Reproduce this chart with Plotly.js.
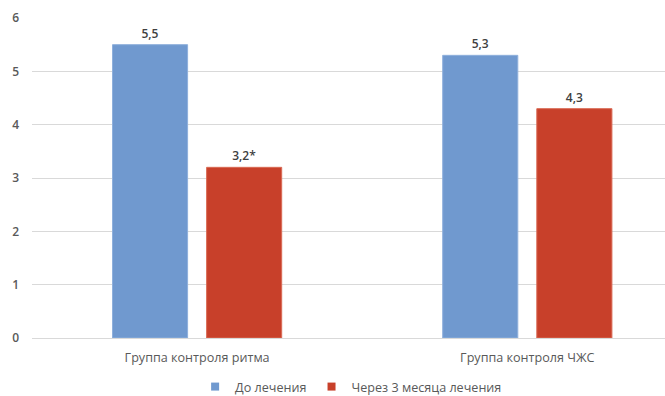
<!DOCTYPE html>
<html><head><meta charset="utf-8">
<script src="https://cdn.plot.ly/plotly-3.0.1.min.js"></script>
<style>html,body{margin:0;padding:0;background:#fff;}#chart{width:665px;height:396px;}</style>
</head><body><div id="chart"></div>
<script>
const categories = ["Группа контроля ритма", "Группа контроля ЧЖС"];
const seriesNames = ["До лечения", "Через 3 месяца лечения"];
const beforeValues = [5.5, 5.3];
const afterValues = [3.2, 4.3];
const beforeLabels = ["5,5", "5,3"];
const afterLabels = ["3,2*", "4,3"];
const yTicks = [0, 1, 2, 3, 4, 5, 6];
const colors = ["#7099CF", "#C8402A"];

const font = {family: "Open Sans, Noto Sans, sans-serif", size: 12.6, color: "#595959"};
const common = {type: "bar", textposition: "outside", cliponaxis: false, showlegend: false,
  textfont: {family: "Open Sans, sans-serif", size: 12, color: "#404040", weight: 600}};
const traces = [
  Object.assign({}, common, {x: categories, y: beforeValues, name: seriesNames[0], text: beforeLabels,
    marker: {color: colors[0], line: {color: "#8FB0DC", width: 1}}}),
  Object.assign({}, common, {x: categories, y: afterValues, name: seriesNames[1], text: afterLabels,
    marker: {color: colors[1], line: {color: "#D96A55", width: 1}}}),
  {type: "scatter", mode: "markers", x: [null], y: [null], name: seriesNames[0], showlegend: true,
    marker: {symbol: "square", size: 8, color: colors[0]}},
  {type: "scatter", mode: "markers", x: [null], y: [null], name: seriesNames[1], showlegend: true,
    marker: {symbol: "square", size: 8, color: colors[1]}}
];
const layout = {
  width: 665, height: 396,
  margin: {l: 32, r: 0, t: 18, b: 58},
  paper_bgcolor: "#fff", plot_bgcolor: "#fff",
  font: font,
  barmode: "group", bargap: 0.43, bargroupgap: 0.202,
  showlegend: true,
  legend: {orientation: "h", xref: "container", yref: "container", x: 0.528, xanchor: "center",
    y: 0.023, yanchor: "middle", itemwidth: 30, traceorder: "normal",
    font: {family: "Open Sans, sans-serif", size: 12.6, color: "#595959"}},
  xaxis: {type: "category", range: [-0.5, 1.417], showgrid: false, showline: false, zeroline: false,
    ticks: "", ticklabelstandoff: 10, automargin: false, tickfont: {size: 12.6, color: "#595959"}},
  yaxis: {range: [0, 6], tickvals: yTicks, showgrid: true, gridcolor: "#D9D9D9", gridwidth: 1,
    zeroline: true, zerolinecolor: "#D9D9D9", showline: false, ticks: "", ticklabelstandoff: 12,
    automargin: false, tickfont: {size: 12, color: "#595959", weight: 600}}
};
Plotly.newPlot("chart", traces, layout, {displayModeBar: false, staticPlot: true});
</script></body></html>
